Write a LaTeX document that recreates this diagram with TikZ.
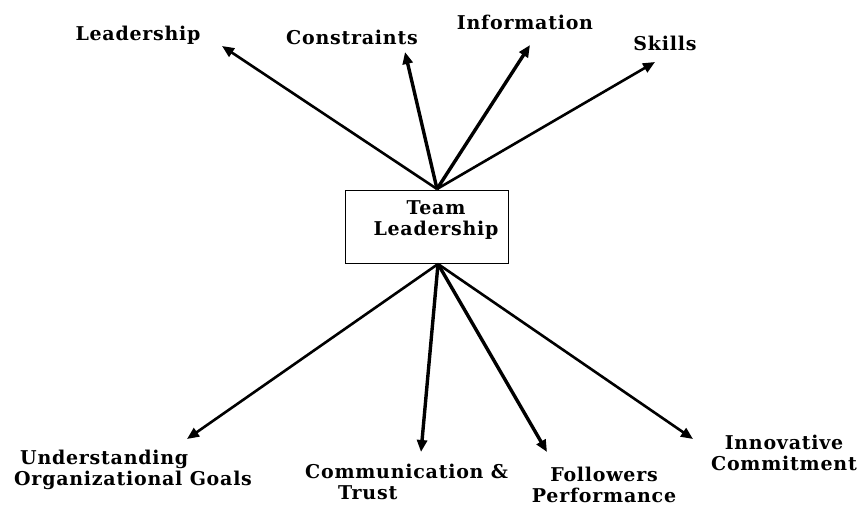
\documentclass[tikz,border=0pt]{standalone}
\usepackage{fontspec}
\setmainfont{DejaVu Serif}[LetterSpace=4]
\usetikzlibrary{arrows.meta}
\tikzset{
  lbl/.style={font=\bfseries\fontsize{19}{21}\selectfont, inner sep=0pt, text=black},
  arr/.style={line width=2.6pt, -{Triangle[length=12pt,width=10pt]}},
  thick arr/.style={line width=3.4pt, -{Triangle[length=12pt,width=10pt]}},
  tbox/.style={draw, line width=1pt, minimum width=163pt, minimum height=73pt, inner sep=0pt}
}
\begin{document}
\begin{tikzpicture}[x=1pt,y=-1pt]
\useasboundingbox (0,0) rectangle (859,508);
\node[tbox] (tl) at (426.5,226.5) {};
\node[lbl, align=center] (tlt) at (436,220) {Team\\Leadership};
\coordinate (top) at (437,189);
\coordinate (bot) at (438,264);
% top labels
\node[lbl] (l1) at (138,35) {Leadership};
\node[lbl] (l2) at (352,37) {Constraints};
\node[lbl] (l3) at (525,22) {Information};
\node[lbl] (l4) at (665,43) {Skills};
% bottom labels
\node[lbl, align=left, anchor=west] (b1) at (14,470) {\hspace*{6pt}Understanding\\Organizational Goals};
\node[lbl, align=left, anchor=west] (b2) at (305,482) {Communication \&\\\hspace*{33pt}Trust};
\node[lbl, align=center, anchor=south] (b3) at (604,503) {Followers\\Performance};
\node[lbl, align=center] (b4) at (784,453) {Innovative\\Commitment};
% tips
\coordinate (t1) at (222,46);
\coordinate (t2) at (405,52);
\coordinate (t3) at (530,45);
\coordinate (t4) at (655,62);
\coordinate (u1) at (187,439);
\coordinate (u2) at (421,452);
\coordinate (u3) at (547,452);
\coordinate (u4) at (693,439);
\draw[arr] (top) -- (t1);
\draw[thick arr] (top) -- (t2);
\draw[thick arr] (top) -- (t3);
\draw[arr] (top) -- (t4);
\draw[arr] (bot) -- (u1);
\draw[thick arr] (bot) -- (u2);
\draw[thick arr] (bot) -- (u3);
\draw[arr] (bot) -- (u4);
\end{tikzpicture}
\end{document}
